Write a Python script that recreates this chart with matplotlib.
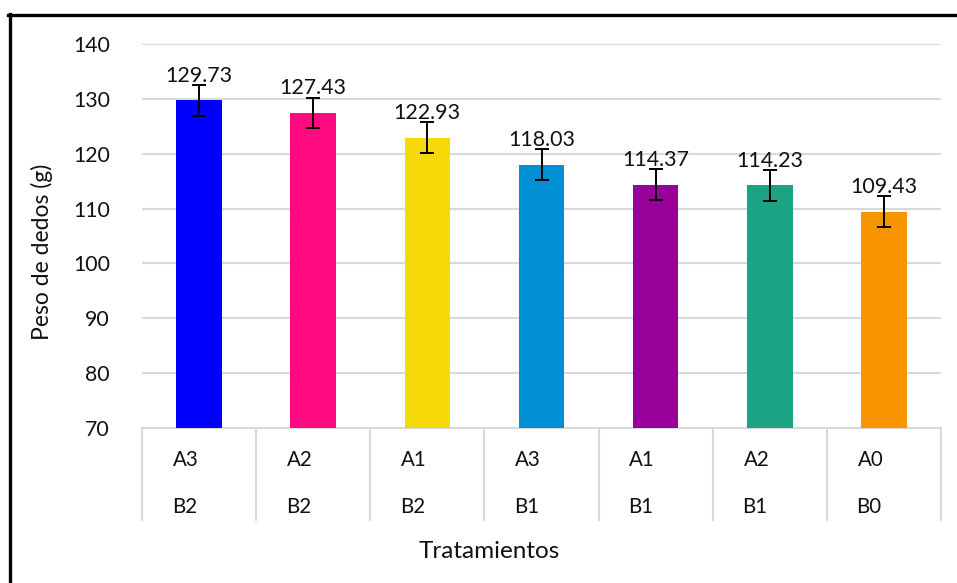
import matplotlib
matplotlib.use("Agg")
import matplotlib.pyplot as plt
from matplotlib.lines import Line2D
import matplotlib.transforms as mtransforms

plt.rcParams['font.family'] = ['Lato', 'DejaVu Sans']

factor_a = ["A3", "A2", "A1", "A3", "A1", "A2", "A0"]
factor_b = ["B2", "B2", "B2", "B1", "B1", "B1", "B0"]
values = [129.73, 127.43, 122.93, 118.03, 114.37, 114.23, 109.43]
errors = [2.8, 2.8, 2.8, 2.8, 2.8, 2.8, 2.8]
colors = ["#0000FF", "#FF0A80", "#F5D908", "#008FD2", "#990099", "#1BA384", "#F79400"]
yticks = [70, 80, 90, 100, 110, 120, 130, 140]

W, H = 957, 583
fig = plt.figure(figsize=(W / 100, H / 100), dpi=100)
ax = fig.add_axes([142 / W, 1 - 428 / H, (941 - 142) / W, (428 - 44) / H])

x = list(range(len(values)))
ax.bar(x, values, width=0.4, color=colors, zorder=3, bottom=0)
ax.errorbar(x, values, yerr=errors, fmt='none', ecolor='black',
            elinewidth=1.4, capsize=4.8, capthick=1.4, zorder=4)
for xi, v in zip(x, values):
    ax.annotate(f"{v:.2f}", (xi, v), xytext=(0, 10.5), textcoords='offset points',
                ha='center', va='bottom', fontsize=15.4, color='#111111', zorder=5)

ax.set_ylim(70, 140)
ax.set_xlim(-0.5, len(values) - 0.5)
ax.set_yticks(yticks)
ax.set_xticks([])
ax.yaxis.grid(True, color='#D9D9D9', linewidth=1.5, zorder=0)
ax.set_axisbelow(True)
for s in ['top', 'right', 'left']:
    ax.spines[s].set_visible(False)
ax.spines['bottom'].set_color('#D9D9D9')
ax.spines['bottom'].set_linewidth(1.5)
ax.tick_params(axis='y', length=0, pad=23, labelsize=15.3, labelcolor='#111111')

trans = mtransforms.blended_transform_factory(ax.transData, ax.transAxes)
y_low = (428 - 520) / (428 - 44)
for i in range(len(values) + 1):
    ax.add_line(Line2D([i - 0.5, i - 0.5], [0, y_low], transform=trans,
                       color='#D9D9D9', linewidth=1.5, clip_on=False))
ya = (428 - 460) / (428 - 44)
yb = (428 - 507) / (428 - 44)
for i, (a, b) in enumerate(zip(factor_a, factor_b)):
    ax.text(i - 0.5 + 0.27, ya, a, transform=trans, ha='left', va='center',
            fontsize=14.8, color='#111111')
    ax.text(i - 0.5 + 0.26, yb, b, transform=trans, ha='left', va='center',
            fontsize=14.8, color='#111111')

fig.text(489 / W, 1 - 552 / H, "Tratamientos", ha='center', va='center',
         fontsize=17.5, color='#111111')
fig.text(42 / W, 1 - 252 / H, "Peso de dedos (g)", ha='center', va='center',
         rotation=90, fontsize=16.5, color='#111111')

# outer frame (top and left edges visible)
fig.add_artist(Line2D([8 / W, 1.0], [1 - 15 / H, 1 - 15 / H], transform=fig.transFigure,
                      color='black', linewidth=2.4))
fig.add_artist(Line2D([9.5 / W, 9.5 / W], [1 - 14 / H, 0], transform=fig.transFigure,
                      color='black', linewidth=2.4))

fig.savefig("out.png", dpi=100)
